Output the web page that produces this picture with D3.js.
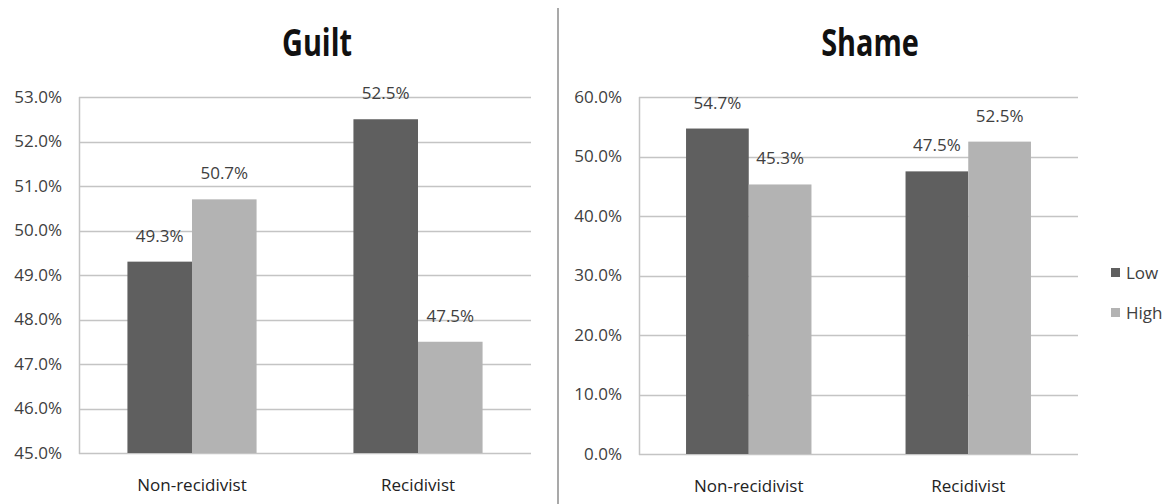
<!DOCTYPE html>
<html><head><meta charset="utf-8">
<script src="https://cdn.jsdelivr.net/npm/d3@7"></script>
<style>body{margin:0;background:#fff}svg{display:block}text{font-family:"Open Sans",sans-serif}</style>
</head><body><svg id="c" width="1172" height="504"></svg>
<script>
const categories = ["Non-recidivist", "Recidivist"];
const seriesNames = ["Low", "High"];
const guiltLow = [49.3, 52.5];
const guiltHigh = [50.7, 47.5];
const shameLow = [54.7, 47.5];
const shameHigh = [45.3, 52.5];
const guiltTicks = [45, 46, 47, 48, 49, 50, 51, 52, 53];
const shameTicks = [0, 10, 20, 30, 40, 50, 60];
const colors = {Low: "#5f5f5f", High: "#b3b3b3"};
const SX = 1;

const svg = d3.select("#c");

function txt(sel, x, y) {
  return sel.attr("transform", (d, i) => `translate(${typeof x === "function" ? x(d, i) : x},${typeof y === "function" ? y(d, i) : y}) scale(${SX},1)`);
}

function panel(title, low, high, ticks, x0, x1, yTop, yBot, titleX) {
  const g = svg.append("g");
  const y = d3.scaleLinear().domain([ticks[0], ticks[ticks.length-1]]).range([yBot, yTop]);
  const xb = d3.scaleBand().domain(categories).range([x0, x1]).paddingInner(0).paddingOuter(0);
  const xs = d3.scaleBand().domain(seriesNames).range([0, xb.bandwidth()]).paddingInner(0).paddingOuter(0.75);
  g.selectAll("line.grid").data(ticks).join("line")
    .attr("x1", x0).attr("x2", x1)
    .attr("y1", d => Math.round(y(d)) + 0.5).attr("y2", d => Math.round(y(d)) + 0.5)
    .attr("stroke", "#c4c4c4").attr("stroke-width", 1.5);
  g.append("line").attr("x1", x0 + 0.5).attr("x2", x0 + 0.5).attr("y1", yTop).attr("y2", yBot + 1)
    .attr("stroke", "#c4c4c4").attr("stroke-width", 1.5);
  txt(g.selectAll("text.yl").data(ticks).join("text"), x0 - 17, d => y(d))
    .attr("dy", "0.35em")
    .attr("text-anchor", "end").attr("font-size", 17).attr("fill", "#404040")
    .text(d => d.toFixed(1) + "%");
  const rows = categories.map((c, i) => ({c, vals: [{s: "Low", v: low[i]}, {s: "High", v: high[i]}]}));
  const grp = g.selectAll("g.cat").data(rows).join("g").attr("transform", d => `translate(${xb(d.c)},0)`);
  grp.selectAll("rect").data(d => d.vals).join("rect")
    .attr("x", d => xs(d.s)).attr("width", xs.bandwidth())
    .attr("y", d => y(d.v)).attr("height", d => yBot - y(d.v))
    .attr("fill", d => colors[d.s]);
  txt(grp.selectAll("text").data(d => d.vals).join("text"),
      d => xs(d.s) + xs.bandwidth() / 2, d => y(d.v) - 20)
    .attr("text-anchor", "middle").attr("font-size", 17).attr("fill", "#404040")
    .text(d => d.v.toFixed(1) + "%");
  txt(g.selectAll("text.cl").data(categories).join("text"), d => xb(d) + xb.bandwidth() / 2, yBot + 32)
    .attr("dy", "0.35em")
    .attr("text-anchor", "middle").attr("font-size", 17).attr("fill", "#222")
    .text(d => d);
  svg.append("text").attr("transform", `translate(${titleX},56) scale(0.78,1)`).attr("text-anchor", "middle")
    .attr("font-size", 37).attr("font-weight", "bold").attr("fill", "#111").text(title);
}

panel("Guilt", guiltLow, guiltHigh, guiltTicks, 79, 531, 97, 453, 317);
panel("Shame", shameLow, shameHigh, shameTicks, 639, 1078, 97, 454, 870);

svg.append("line").attr("x1", 558).attr("x2", 558).attr("y1", 8).attr("y2", 504)
  .attr("stroke", "#8c8c8c").attr("stroke-width", 1.5);

const leg = svg.append("g");
leg.selectAll("rect").data(seriesNames).join("rect")
  .attr("x", 1111).attr("y", (d, i) => 268 + i * 40).attr("width", 9).attr("height", 9)
  .attr("fill", d => colors[d]);
txt(leg.selectAll("text").data(seriesNames).join("text"), 1126, (d, i) => 273 + i * 40)
  .attr("dy", "0.35em")
  .attr("font-size", 17).attr("fill", "#404040").text(d => d);
</script></body></html>
